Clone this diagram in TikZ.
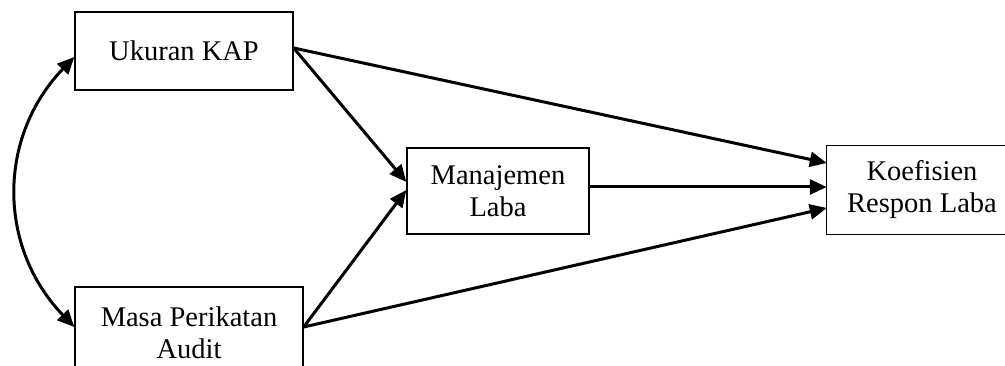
\documentclass[tikz,border=0pt]{standalone}
\usepackage{fontspec}
\setmainfont{Liberation Serif}
\usetikzlibrary{arrows.meta}
\begin{document}
\begin{tikzpicture}[x=1pt,y=-1pt,
  boxline/.style={draw=black, line width=1.3pt},
  box/.style={boxline, align=center, inner sep=0pt,
    font=\fontsize{28.5}{32}\selectfont},
  opentext/.style={align=center, inner sep=0pt,
    font=\fontsize{28.5}{32}\selectfont},
  conn/.style={line width=3pt, -{Triangle[length=17pt,width=15pt]}},
  bidir/.style={line width=3pt, {Triangle[length=17pt,width=15pt]}-{Triangle[length=17pt,width=15pt]}}]
\useasboundingbox (0,0) rectangle (1005,366);
\begin{scope}
\clip (0,0) rectangle (1005,366);
\node[box, minimum width=218pt, minimum height=78pt] (uk) at (184,51) {Ukuran KAP};
\node[box, minimum width=228pt, minimum height=92pt] (ma) at (189,333) {Masa Perikatan\\Audit};
\node[box, minimum width=182pt, minimum height=86pt] (mj) at (498,191) {Manajemen\\Laba};
\node[opentext, minimum width=190pt, minimum height=88pt] (ko) at (922,190) {Koefisien\\Respon Laba};
\draw[boxline] ([xshift=40pt]ko.north east) -- (ko.north west) -- (ko.south west) -- ([xshift=40pt]ko.south east);
\end{scope}
\draw[conn] ([yshift=3pt]uk.east) -- ([yshift=9pt]mj.west);
\draw[conn] ([yshift=3pt]uk.east) -- ([yshift=27pt]ko.west);
\draw[conn] ([yshift=6pt]ma.east) -- ([yshift=1pt]mj.west);
\draw[conn] ([yshift=6pt]ma.east) -- ([yshift=-18pt]ko.west);
\draw[conn] (mj.east |- 0,187) -- (ko.west |- 0,187);
\draw[bidir] ([yshift=-6pt]uk.west) .. controls +(-77,80) and +(-77,-80) .. ([yshift=6pt]ma.west);
\end{tikzpicture}
\end{document}
